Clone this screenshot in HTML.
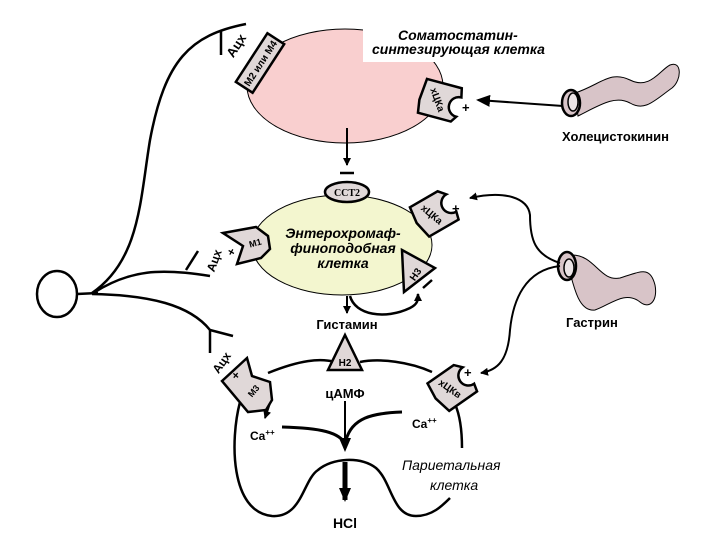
<!DOCTYPE html>
<html><head><meta charset="utf-8"><style>
html,body{margin:0;padding:0;background:#fff}
svg{display:block}
text{font-family:"Liberation Sans",sans-serif;font-weight:bold;fill:#000}
.it{font-style:italic}
</style></head><body>
<svg width="720" height="540" viewBox="0 0 720 540" xmlns="http://www.w3.org/2000/svg">
<defs>
<marker id="ah" markerWidth="8" markerHeight="8" refX="7" refY="4" orient="auto" markerUnits="userSpaceOnUse"><path d="M0,0 L8,4 L0,8 Z" fill="#000"/></marker>
<marker id="ah2" markerWidth="14" markerHeight="12" refX="12" refY="6" orient="auto" markerUnits="userSpaceOnUse"><path d="M0,0 L14,6 L0,12 Z" fill="#000"/></marker>
</defs>
<!-- neuron -->
<ellipse cx="57" cy="294" rx="20" ry="23" fill="#fff" stroke="#000" stroke-width="2.5"/>
<g fill="none" stroke="#000" stroke-width="2.5">
<path d="M77,294 L98,293"/>
<path d="M92,293 C140,260 140,200 150,140 C165,60 190,35 246,24"/>
<path d="M221,30 L221,55"/>
<path d="M95,292 C130,270 160,268 210,276"/>
<path d="M186,270 L198,251"/>
<path d="M92,294 C150,295 190,305 210,330 L233,336"/>
<path d="M210,330 L210,353"/>
</g>
<!-- pink cell -->
<ellipse cx="345" cy="86" rx="98" ry="57" fill="#f9cfcf" stroke="#000" stroke-width="1"/>
<rect x="363" y="0" width="210" height="62" fill="#fff"/>
<text x="398" y="40" class="it" font-size="14">Соматостатин-</text>
<text x="372" y="54" class="it" font-size="14">синтезирующая клетка</text>
<!-- M2/M4 -->
<g transform="translate(260,63) rotate(-57)">
<rect x="-29" y="-10" width="58" height="20" fill="#e0d8d8" stroke="#000" stroke-width="2.5"/>
<text x="0" y="4" font-size="10" text-anchor="middle">M2 или M4</text>
</g>
<text x="240" y="48" font-size="13" transform="rotate(-57 240 48)" text-anchor="middle">Ацх</text>
<!-- xCKa top -->
<g transform="translate(440,100) rotate(15)">
<path d="M-18,-17 L18,-17 L20,-8 A9,9 0 0 0 20,12 L16,18 L-18,18 L-20,5 Z" fill="#e0d8d8" stroke="#000" stroke-width="2.5"/>
<text x="-2" y="4" font-size="10" transform="rotate(55 -2 0)" text-anchor="middle">хЦКа</text>
</g>
<text x="462" y="112" font-size="13">+</text>
<!-- CCK worm -->
<path d="M575,93 C600,85 610,70 630,80 C650,90 660,70 670,65 C682,60 682,80 672,88 C655,100 645,112 630,103 C615,95 600,105 578,116 Z" fill="#d8c4c8" stroke="#000" stroke-width="1"/>
<ellipse cx="571" cy="103" rx="9" ry="13" fill="#d8c4c8" stroke="#000" stroke-width="2.5"/>
<ellipse cx="573" cy="102" rx="5" ry="9" fill="#ece4e6" stroke="#000" stroke-width="1.5"/>
<path d="M563,106 L478,100" stroke="#000" stroke-width="2" fill="none" marker-end="url(#ah2)"/>
<text x="562" y="141" font-size="13">Холецистокинин</text>
<!-- gastrin worm -->
<path d="M572,255 C595,255 600,282 620,278 C640,272 650,265 655,285 C658,300 650,310 640,302 C625,290 610,305 595,310 C580,312 575,290 572,280 Z" fill="#d8c4c8" stroke="#000" stroke-width="1"/>
<ellipse cx="567" cy="266" rx="9" ry="14" fill="#d8c4c8" stroke="#000" stroke-width="2.5"/>
<ellipse cx="569" cy="268" rx="5" ry="9" fill="#ece4e6" stroke="#000" stroke-width="1.5"/>
<path d="M560,263 C535,255 530,240 530,215 C528,198 505,190 470,198" stroke="#000" stroke-width="2" fill="none" marker-end="url(#ah)"/>
<path d="M560,266 C525,270 513,300 510,330 C508,360 498,370 481,373" stroke="#000" stroke-width="2" fill="none" marker-end="url(#ah)"/>
<text x="566" y="327" font-size="13">Гастрин</text>
<!-- pink to yellow arrow -->
<path d="M347,128 L347,165" stroke="#000" stroke-width="2" marker-end="url(#ah)"/>
<path d="M340,173 L354,173" stroke="#000" stroke-width="2.5"/>
<!-- yellow cell -->
<ellipse cx="342" cy="245" rx="90" ry="50" fill="#f3f6cf" stroke="#000" stroke-width="1"/>
<ellipse cx="347" cy="192" rx="22" ry="10" fill="#e0d8d8" stroke="#000" stroke-width="2.5"/>
<text x="347" y="196" font-size="10" text-anchor="middle" style="font-family:'Liberation Serif',serif">ССТ2</text>
<text x="343" y="238" class="it" font-size="14" text-anchor="middle">Энтерохромаф-</text>
<text x="343" y="253" class="it" font-size="14" text-anchor="middle">финоподобная</text>
<text x="343" y="268" class="it" font-size="14" text-anchor="middle">клетка</text>
<!-- M1 -->
<path d="M223,233 L256,227 L268,236 L270,249 L261,258 L237,264 L243,246 Z" fill="#e0d8d8" stroke="#000" stroke-width="2.5"/>
<text x="256" y="246" font-size="9" transform="rotate(-15 256 246)" text-anchor="middle">M1</text>
<text x="218" y="262" font-size="12" transform="rotate(-70 218 262)" text-anchor="middle">Ацх</text>
<text x="233" y="257" font-size="12" transform="rotate(-60 233 257)">+</text>
<!-- xCKa yellow -->
<g transform="translate(434,213) rotate(-30)">
<path d="M-18,-17 L14,-17 L20,-10 A9,9 0 0 0 20,10 L18,18 L-16,18 L-20,0 Z" fill="#e0d8d8" stroke="#000" stroke-width="2.5"/>
<text x="-2" y="4" font-size="10" transform="rotate(70 -2 0)" text-anchor="middle">хЦКа</text>
</g>
<text x="452" y="213" font-size="13">+</text>
<!-- H3 -->
<path d="M402,250 L435,268 L404,292 Z" fill="#e0d8d8" stroke="#000" stroke-width="2.5"/>
<text x="415" y="278" font-size="10" transform="rotate(-55 415 274)" text-anchor="middle">H3</text>
<path d="M423,288 L432,280" stroke="#000" stroke-width="2.5"/>
<path d="M350,296 C355,315 385,320 410,308 C418,304 418,300 418,294" stroke="#000" stroke-width="2.5" fill="none" marker-end="url(#ah)"/>
<path d="M347,296 L347,313" stroke="#000" stroke-width="2" marker-end="url(#ah)"/>
<text x="347" y="329" font-size="13" text-anchor="middle">Гистамин</text>
<!-- parietal cell -->
<g fill="none" stroke="#000" stroke-width="2.5">
<path d="M268,373 C300,360 320,358 335,362"/>
<path d="M360,362 C380,358 410,362 432,372"/>
<path d="M240,402 C230,440 230,512 272,516 C302,518 303,480 318,470 C332,458 360,456 376,468 C392,482 392,516 416,516 C432,516 442,506 450,498"/>
<path d="M455,404 C462,420 462,440 462,448"/>
</g>
<path d="M345,335 L362,370 L328,370 Z" fill="#e0d8d8" stroke="#000" stroke-width="2.5"/>
<text x="345" y="366" font-size="10" text-anchor="middle">H2</text>
<!-- M3 -->
<path d="M222,381 L247,358 L252,376 L270,382 L272,400 L266,410 L248,412 Z" fill="#e0d8d8" stroke="#000" stroke-width="2.5"/>
<text x="256" y="393" font-size="9" transform="rotate(-50 256 393)" text-anchor="middle">M3</text>
<text x="225" y="365" font-size="12" transform="rotate(-55 225 365)" text-anchor="middle">Ацх</text>
<text x="232" y="379" font-size="12" transform="rotate(-50 236 375)">+</text>
<path d="M270,403 L265,418" stroke="#000" stroke-width="2" marker-end="url(#ah)"/>
<!-- xCKv -->
<g transform="translate(452,387) rotate(-35)">
<path d="M-18,-17 L14,-17 L20,-10 A9,9 0 0 0 20,10 L18,18 L-16,18 L-20,0 Z" fill="#e0d8d8" stroke="#000" stroke-width="2.5"/>
<text x="-2" y="4" font-size="10" transform="rotate(70 -2 0)" text-anchor="middle">хЦКв</text>
</g>
<text x="464" y="377" font-size="13">+</text>
<!-- inner arrows -->
<text x="345" y="398" font-size="13" text-anchor="middle">цАМФ</text>
<path d="M345,401 L345,450" stroke="#000" stroke-width="2" marker-end="url(#ah2)"/>
<path d="M282,427 C320,428 340,432 346,445" stroke="#000" stroke-width="3" fill="none"/>
<path d="M346,440 C352,418 372,413 402,412" stroke="#000" stroke-width="3" fill="none"/>
<text x="250" y="440" font-size="12">Ca<tspan font-size="8" dy="-5">++</tspan></text>
<text x="412" y="428" font-size="12">Ca<tspan font-size="8" dy="-5">++</tspan></text>
<path d="M345,462 L345,500" stroke="#000" stroke-width="5" marker-end="url(#ah2)"/>
<text x="345" y="528" font-size="14" text-anchor="middle">HCl</text>
<text x="402" y="470" class="it" font-size="14" style="font-weight:normal">Париетальная</text>
<text x="430" y="490" class="it" font-size="14" style="font-weight:normal">клетка</text>
</svg>
</body></html>
